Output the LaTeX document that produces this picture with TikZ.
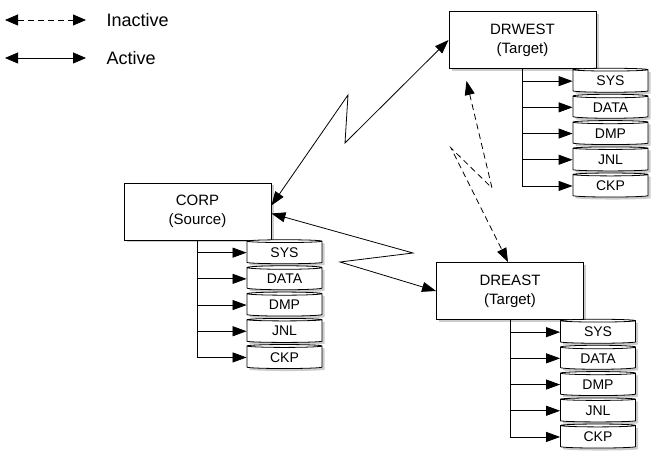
\documentclass[tikz,border=0pt]{standalone}
\usepackage{fontspec}
\setmainfont{Liberation Sans}
\usetikzlibrary{arrows.meta,positioning,shapes.geometric,shadows,calc}

\begin{document}
\begin{tikzpicture}[
  x=1pt, y=-1pt,
  box/.style={draw,line width=0.9pt,fill=white,minimum width=147pt,minimum height=57pt,
    align=center,font=\fontsize{15}{19}\selectfont,
    drop shadow={shadow xshift=2.5pt,shadow yshift=-2.5pt,opacity=0.4}},
  disk/.style={cylinder,shape border rotate=90,aspect=0.1,draw,line width=0.8pt,fill=white,
    minimum width=75pt,minimum height=24pt,inner sep=0pt,font=\fontsize{14}{14}\selectfont,
    drop shadow={shadow xshift=2.5pt,shadow yshift=-2.5pt,opacity=0.4}},
  feed/.style={-{Triangle[length=14pt,width=10pt]},line width=0.8pt},
  link/.style={{Triangle[length=14pt,width=10pt]}-{Triangle[length=14pt,width=10pt]},line width=0.8pt},
  idle/.style={link,dash pattern=on 6pt off 4pt},
  legend/.style={anchor=west,font=\fontsize{18}{20}\selectfont}
]
  \useasboundingbox (0,0) rectangle (664,470);

  % legend
  \coordinate (i1) at (5,20);
  \coordinate (i2) at (86,20);
  \coordinate (a1) at (5,58);
  \coordinate (a2) at (86,58);
  \node[legend] (inactive) at (103,20) {Inactive};
  \node[legend] (active) at (103,58) {Active};
  \draw[{Triangle[length=13pt,width=11pt]}-{Triangle[length=13pt,width=11pt]},line width=0.8pt,dash pattern=on 6pt off 4pt] (i1) -- (i2);
  \draw[{Triangle[length=13pt,width=11pt]}-{Triangle[length=13pt,width=11pt]},line width=0.8pt] (a1) -- (a2);

  % sites
  \node[box] (corp) at (197.5,211.5) {CORP\\(Source)};
  \node[box] (drwest) at (522.5,40) {DRWEST\\(Target)};
  \node[box] (dreast) at (510,291) {DREAST\\(Target)};

  \foreach \site/\dx in {corp/87,drwest/88,dreast/88} {
    \foreach \lbl [count=\k] in {SYS,DATA,DMP,JNL,CKP} {
      \node[disk] (\site-\k) at ($(\site.south)+(\dx,-14+26.2*\k)$) {\lbl};
      \draw[feed] (\site.south) |- (\site-\k.west);
    }
  }

  % links
  \coordinate (wz1) at (348,95);
  \coordinate (wz2) at (345,143);
  \draw[link] ([yshift=6pt]corp.east) -- (wz1) -- (wz2) -- (drwest.west);

  \coordinate (ez1) at (413,253);
  \coordinate (ez2) at (340,262);
  \draw[link] ([yshift=-2pt]corp.east) -- (ez1) -- (ez2) -- (dreast.west);

  \coordinate (dz0) at ($(drwest.south)+(-56,12)$);
  \coordinate (dz1) at (492,188);
  \coordinate (dz2) at (451,148);
  \draw[idle] (dz0) -- (dz1) -- (dz2) -- ([xshift=-2pt]dreast.north);
\end{tikzpicture}
\end{document}
